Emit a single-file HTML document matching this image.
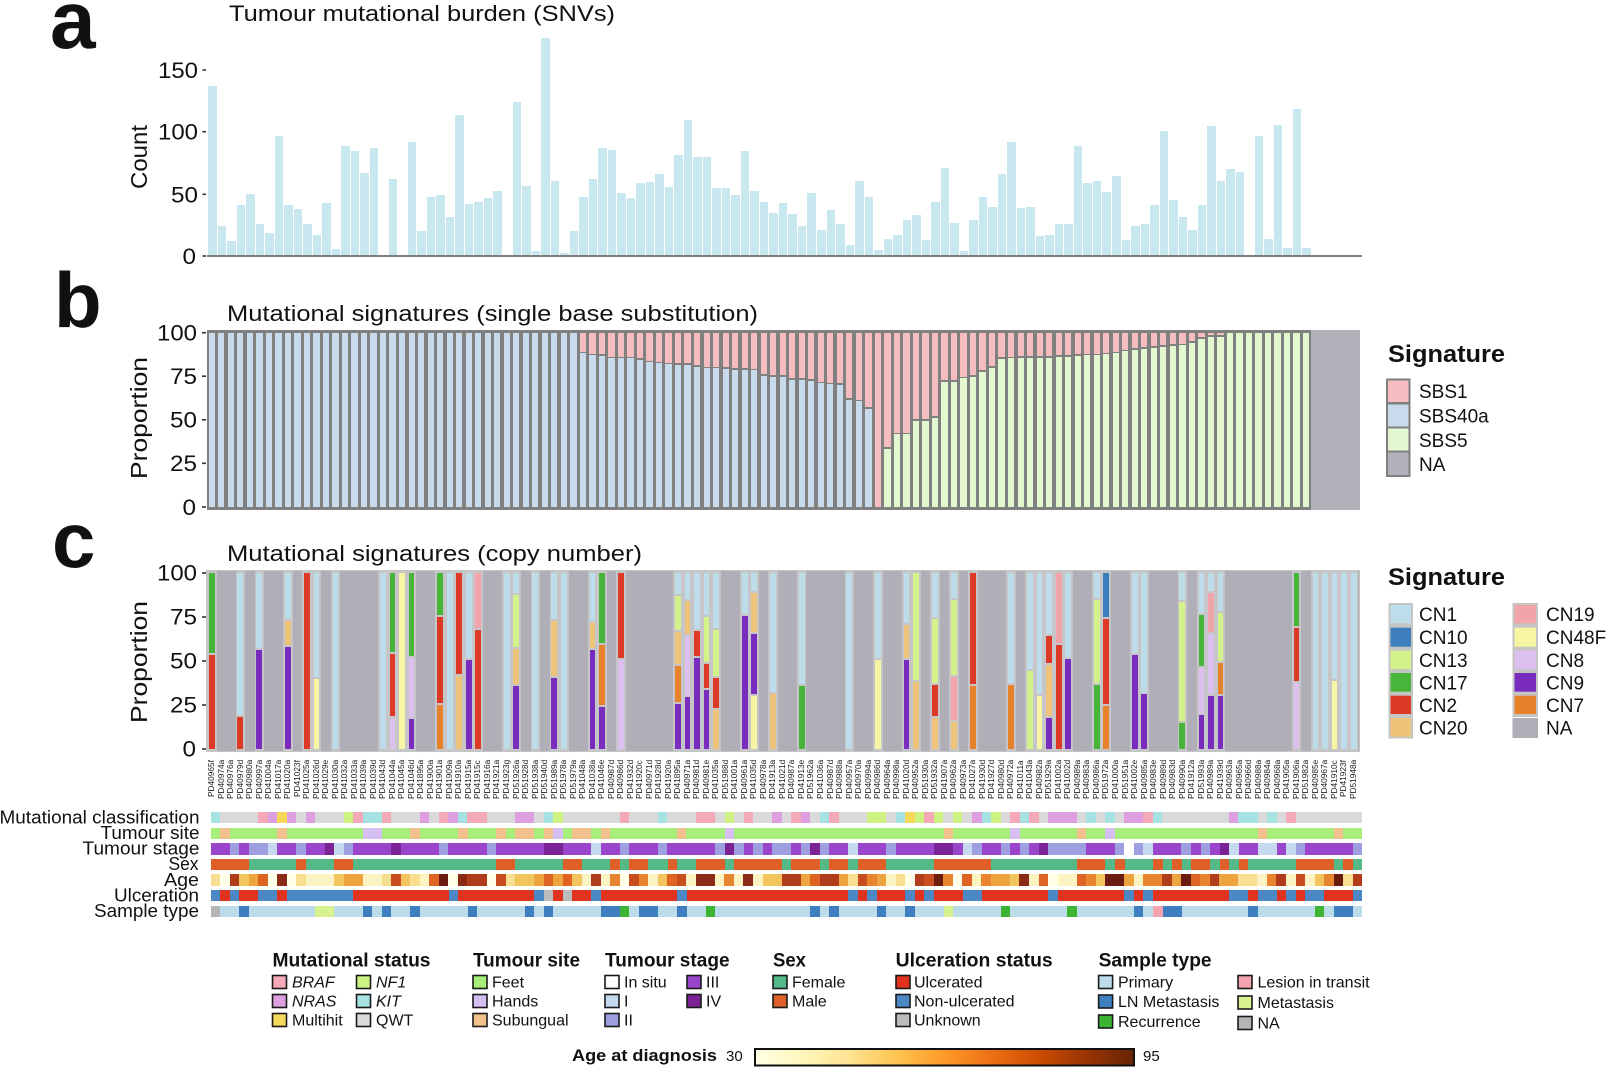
<!DOCTYPE html>
<html><head><meta charset="utf-8">
<style>
html,body{margin:0;padding:0;background:#fff}
body{width:1606px;height:1067px;position:relative;overflow:hidden;font-family:"Liberation Sans",Arial,sans-serif}
i,b{display:block;font-style:normal}
#pa{position:absolute;left:208px;top:7px;width:1152px;height:248px;display:flex;align-items:flex-end}
#pa>i{flex:1 1 0;min-width:0;background:#c8e7ee;box-shadow:inset -1px 0 #fff}
#base{position:absolute;left:207px;top:255px;width:1155px;height:2px;background:#7f7f7f}
#pb{position:absolute;left:207px;top:330px;width:1104px;height:180px;background:#808080;display:flex;padding:3px 0;box-sizing:border-box}
#pb>i{flex:1 1 0;min-width:0;display:flex;flex-direction:column;margin:0 1.6px 0 1.7px}
#pb>i>b:first-child{flex:0 0 auto}
#pb>i>b+b{flex:1 1 0;margin-top:1.6px}
#pbna{position:absolute;left:1311px;top:330px;width:49px;height:180px;background:#b2b1b9}
.p{background:#f5bdc0}.u{background:#c7dbec}.g{background:#e3f8d1}
#pc{position:absolute;left:207px;top:571px;width:1152px;height:180px;background:#b0aeb6;display:flex;outline:1.5px solid #c5c5c5}
#pc>i{flex:1 1 0;min-width:0;display:flex;flex-direction:column;padding:1.7px 1.9px;box-sizing:border-box}
#pc>i.f{background:#c6c6c8}
#pc b{flex:1 1 0;min-height:0}
#pc b+b{margin-top:2px}
.c1{background:#bcdde9}.c10{background:#3d7fbe}.c13{background:#d3f28a}.c17{background:#46b53a}.c2{background:#dc3a26}.c20{background:#efc47a}.c19{background:#f1a5ab}.c48{background:#f6f6a2}.c8{background:#dcc1ee}.c9{background:#7a2cbf}.c7{background:#e8822a}
#lb{position:absolute;left:207px;top:760px;width:1152px;height:39px;display:flex}
#lb>span{flex:1 1 0;min-width:0;writing-mode:vertical-rl;transform:rotate(180deg);text-align:end;font-size:8.3px;line-height:9.5px;white-space:nowrap;color:#222}
.tr{position:absolute;left:210.5px;width:1152px;height:11.4px;display:flex}
.tr>i{flex:1 1 0;min-width:0}
.mK{background:#a7e2e2}.mG{background:#dadada}.mB{background:#f4a8b8}.mN{background:#de9fe0}.mM{background:#f5d75a}.mF{background:#cff383}
.sF{background:#a8ee7a}.sU{background:#f2c08c}.sH{background:#d5bff2}
.t0{background:#fff}.t1{background:#c5daee}.t2{background:#9d9fe0}.t3{background:#9b45cc}.t4{background:#7b2394}
.xM{background:#e05f28}.xF{background:#55b887}
.a0{background:#fffee6}.a1{background:#fcf3c2}.a2{background:#f7df8f}.a3{background:#f2c45e}.a4{background:#eea43f}.a5{background:#e8852e}.a6{background:#df6423}.a7{background:#c84e1f}.a8{background:#b03c1b}.a9{background:#8b2a16}.a10{background:#6b1c0f}
.uU{background:#e0321f}.uN{background:#4b88c5}.uX{background:#bbbbbb}
.yP{background:#bddcea}.yL{background:#3f7fc0}.yR{background:#3db333}.yT{background:#f5a3ae}.yM{background:#d8f290}.yX{background:#b5b5b5}
svg{position:absolute;left:0;top:0}
</style></head><body>

<div id="pa">
<i style="height:68%"></i><i style="height:11.5%"></i><i style="height:5.5%"></i><i style="height:20%"></i><i style="height:24.5%"></i><i style="height:12.5%"></i><i style="height:9%"></i><i style="height:48%"></i><i style="height:20%"></i><i style="height:18.5%"></i>
<i style="height:12.5%"></i><i style="height:8%"></i><i style="height:21%"></i><i style="height:2.5%"></i><i style="height:44%"></i><i style="height:42%"></i><i style="height:33%"></i><i style="height:43%"></i><i style="height:0"></i><i style="height:30.5%"></i>
<i style="height:0"></i><i style="height:45.5%"></i><i style="height:9.5%"></i><i style="height:23.5%"></i><i style="height:24%"></i><i style="height:15.5%"></i><i style="height:56.5%"></i><i style="height:20.5%"></i><i style="height:21.5%"></i><i style="height:23%"></i>
<i style="height:26%"></i><i style="height:0"></i><i style="height:61.5%"></i><i style="height:28%"></i><i style="height:1.5%"></i><i style="height:87.5%"></i><i style="height:30%"></i><i style="height:1%"></i><i style="height:9.5%"></i><i style="height:23.5%"></i>
<i style="height:30.5%"></i><i style="height:43%"></i><i style="height:42.5%"></i><i style="height:25%"></i><i style="height:23%"></i><i style="height:29%"></i><i style="height:29.5%"></i><i style="height:32.5%"></i><i style="height:27.5%"></i><i style="height:40.5%"></i>
<i style="height:54.5%"></i><i style="height:39.5%"></i><i style="height:39.5%"></i><i style="height:27%"></i><i style="height:27%"></i><i style="height:24%"></i><i style="height:42%"></i><i style="height:26%"></i><i style="height:21.5%"></i><i style="height:17%"></i>
<i style="height:21%"></i><i style="height:16.5%"></i><i style="height:11.5%"></i><i style="height:25%"></i><i style="height:10%"></i><i style="height:18%"></i><i style="height:12.5%"></i><i style="height:4%"></i><i style="height:30%"></i><i style="height:23.5%"></i>
<i style="height:2%"></i><i style="height:6.5%"></i><i style="height:8%"></i><i style="height:14%"></i><i style="height:16%"></i><i style="height:6%"></i><i style="height:21.5%"></i><i style="height:35%"></i><i style="height:13%"></i><i style="height:1.5%"></i>
<i style="height:14%"></i><i style="height:23.5%"></i><i style="height:19.5%"></i><i style="height:32.5%"></i><i style="height:45.5%"></i><i style="height:19%"></i><i style="height:19.5%"></i><i style="height:7.5%"></i><i style="height:8%"></i><i style="height:12.5%"></i>
<i style="height:12.5%"></i><i style="height:44%"></i><i style="height:29%"></i><i style="height:30%"></i><i style="height:25.5%"></i><i style="height:32%"></i><i style="height:6%"></i><i style="height:11.5%"></i><i style="height:12.5%"></i><i style="height:20%"></i>
<i style="height:50%"></i><i style="height:22%"></i><i style="height:15.5%"></i><i style="height:10%"></i><i style="height:20%"></i><i style="height:52%"></i><i style="height:30%"></i><i style="height:34.5%"></i><i style="height:33.5%"></i><i style="height:0"></i>
<i style="height:48%"></i><i style="height:6.5%"></i><i style="height:52.5%"></i><i style="height:3%"></i><i style="height:59%"></i><i style="height:3%"></i><i style="height:0"></i><i style="height:0"></i><i style="height:0"></i><i style="height:0"></i><i style="height:0"></i>
</div>
<div id="base"></div>

<div id="pb">
<i class="u"></i><i class="u"></i><i class="u"></i><i class="u"></i><i class="u"></i><i class="u"></i><i class="u"></i><i class="u"></i><i class="u"></i><i class="u"></i>
<i class="u"></i><i class="u"></i><i class="u"></i><i class="u"></i><i class="u"></i><i class="u"></i><i class="u"></i><i class="u"></i><i class="u"></i><i class="u"></i>
<i class="u"></i><i class="u"></i><i class="u"></i><i class="u"></i><i class="u"></i><i class="u"></i><i class="u"></i><i class="u"></i><i class="u"></i><i class="u"></i>
<i class="u"></i><i class="u"></i><i class="u"></i><i class="u"></i><i class="u"></i><i class="u"></i><i class="u"></i><i class="u"></i><i class="u"></i>
<i><b class="p" style="height:10.8%"></b><b class="u"></b></i><i><b class="p" style="height:11.8%"></b><b class="u"></b></i><i><b class="p" style="height:12.1%"></b><b class="u"></b></i><i><b class="p" style="height:13.7%"></b><b class="u"></b></i><i><b class="p" style="height:13.7%"></b><b class="u"></b></i><i><b class="p" style="height:13.7%"></b><b class="u"></b></i><i><b class="p" style="height:14.6%"></b><b class="u"></b></i><i><b class="p" style="height:15.9%"></b><b class="u"></b></i><i><b class="p" style="height:16.5%"></b><b class="u"></b></i><i><b class="p" style="height:17.1%"></b><b class="u"></b></i>
<i><b class="p" style="height:17.5%"></b><b class="u"></b></i><i><b class="p" style="height:17.5%"></b><b class="u"></b></i><i><b class="p" style="height:18.4%"></b><b class="u"></b></i><i><b class="p" style="height:19.4%"></b><b class="u"></b></i><i><b class="p" style="height:19.4%"></b><b class="u"></b></i><i><b class="p" style="height:19.7%"></b><b class="u"></b></i><i><b class="p" style="height:20.3%"></b><b class="u"></b></i><i><b class="p" style="height:20.3%"></b><b class="u"></b></i><i><b class="p" style="height:20.5%"></b><b class="u"></b></i>
<i><b class="p" style="height:23.7%"></b><b class="u"></b></i><i><b class="p" style="height:24.3%"></b><b class="u"></b></i><i><b class="p" style="height:24.3%"></b><b class="u"></b></i><i><b class="p" style="height:26%"></b><b class="u"></b></i><i><b class="p" style="height:26%"></b><b class="u"></b></i><i><b class="p" style="height:26.6%"></b><b class="u"></b></i><i><b class="p" style="height:27.9%"></b><b class="u"></b></i><i><b class="p" style="height:28.5%"></b><b class="u"></b></i><i><b class="p" style="height:28.8%"></b><b class="u"></b></i><i><b class="p" style="height:37.4%"></b><b class="u"></b></i><i><b class="p" style="height:38.3%"></b><b class="u"></b></i><i><b class="p" style="height:42.5%"></b><b class="u"></b></i>
<i class="p"></i>
<i><b class="p" style="height:65.8%"></b><b class="g"></b></i><i><b class="p" style="height:57.3%"></b><b class="g"></b></i><i><b class="p" style="height:57.3%"></b><b class="g"></b></i><i><b class="p" style="height:49.7%"></b><b class="g"></b></i><i><b class="p" style="height:49.7%"></b><b class="g"></b></i><i><b class="p" style="height:47.8%"></b><b class="g"></b></i>
<i><b class="p" style="height:27%"></b><b class="g"></b></i><i><b class="p" style="height:27%"></b><b class="g"></b></i><i><b class="p" style="height:25%"></b><b class="g"></b></i><i><b class="p" style="height:24.1%"></b><b class="g"></b></i><i><b class="p" style="height:21.3%"></b><b class="g"></b></i><i><b class="p" style="height:19%"></b><b class="g"></b></i>
<i><b class="p" style="height:14%"></b><b class="g"></b></i><i><b class="p" style="height:13.7%"></b><b class="g"></b></i><i><b class="p" style="height:13.3%"></b><b class="g"></b></i><i><b class="p" style="height:13.3%"></b><b class="g"></b></i><i><b class="p" style="height:13.3%"></b><b class="g"></b></i><i><b class="p" style="height:13.3%"></b><b class="g"></b></i><i><b class="p" style="height:12.7%"></b><b class="g"></b></i><i><b class="p" style="height:12.7%"></b><b class="g"></b></i><i><b class="p" style="height:12.1%"></b><b class="g"></b></i><i><b class="p" style="height:11.8%"></b><b class="g"></b></i><i><b class="p" style="height:11.8%"></b><b class="g"></b></i><i><b class="p" style="height:11.4%"></b><b class="g"></b></i>
<i><b class="p" style="height:10.8%"></b><b class="g"></b></i><i><b class="p" style="height:9.5%"></b><b class="g"></b></i><i><b class="p" style="height:8.9%"></b><b class="g"></b></i><i><b class="p" style="height:8%"></b><b class="g"></b></i><i><b class="p" style="height:7.6%"></b><b class="g"></b></i><i><b class="p" style="height:7%"></b><b class="g"></b></i><i><b class="p" style="height:6.5%"></b><b class="g"></b></i><i><b class="p" style="height:6.1%"></b><b class="g"></b></i><i><b class="p" style="height:4.7%"></b><b class="g"></b></i><i><b class="p" style="height:2.3%"></b><b class="g"></b></i><i><b class="p" style="height:1.3%"></b><b class="g"></b></i><i><b class="p" style="height:1.3%"></b><b class="g"></b></i>
<i class="g"></i><i class="g"></i><i class="g"></i><i class="g"></i><i class="g"></i><i class="g"></i><i class="g"></i><i class="g"></i><i class="g"></i>
</div>
<div id="pbna"></div>

<div id="pc">
<i class="f"><b class="c17" style="flex:46"></b><b class="c2" style="flex:54"></b></i><i></i><i></i>
<i class="f"><b class="c1" style="flex:81.5"></b><b class="c2" style="flex:18.5"></b></i><i></i>
<i class="f"><b class="c1" style="flex:43"></b><b class="c9" style="flex:57"></b></i><i></i><i></i>
<i class="f"><b class="c1" style="flex:27"></b><b class="c20" style="flex:14"></b><b class="c9" style="flex:59"></b></i><i></i>
<i class="f"><b class="c2"></b></i>
<i class="f"><b class="c1" style="flex:59.5"></b><b class="c48" style="flex:40.5"></b></i><i></i>
<i class="f"><b class="c1"></b></i><i></i><i></i><i></i><i></i>
<i class="f"><b class="c1"></b></i>
<i class="f"><b class="c17" style="flex:46"></b><b class="c2" style="flex:36"></b><b class="c8" style="flex:18"></b></i>
<i class="f"><b class="c48"></b></i>
<i class="f"><b class="c17" style="flex:48.5"></b><b class="c8" style="flex:34"></b><b class="c9" style="flex:17.5"></b></i><i></i><i></i>
<i class="f"><b class="c17" style="flex:24.5"></b><b class="c2" style="flex:50"></b><b class="c7" style="flex:25.5"></b></i>
<i class="f"><b class="c1"></b></i>
<i class="f"><b class="c2" style="flex:58"></b><b class="c20" style="flex:42"></b></i>
<i class="f"><b class="c1" style="flex:49"></b><b class="c9" style="flex:51"></b></i>
<i class="f"><b class="c19" style="flex:31.5"></b><b class="c2" style="flex:68.5"></b></i><i></i><i></i>
<i class="f"><b class="c1"></b></i>
<i class="f"><b class="c1" style="flex:11.7"></b><b class="c13" style="flex:30.7"></b><b class="c20" style="flex:20.5"></b><b class="c9" style="flex:37.1"></b></i><i></i>
<i class="f"><b class="c1"></b></i><i></i>
<i class="f"><b class="c1" style="flex:26.8"></b><b class="c20" style="flex:31.7"></b><b class="c9" style="flex:41.5"></b></i>
<i class="f"><b class="c1"></b></i><i></i><i></i>
<i class="f"><b class="c1" style="flex:27.7"></b><b class="c20" style="flex:15"></b><b class="c9" style="flex:57.3"></b></i>
<i class="f"><b class="c17" style="flex:40.5"></b><b class="c7" style="flex:35"></b><b class="c9" style="flex:24.5"></b></i><i></i>
<i class="f"><b class="c2" style="flex:49"></b><b class="c8" style="flex:51"></b></i><i></i><i></i><i></i><i></i><i></i>
<i class="f"><b class="c1" style="flex:12.6"></b><b class="c13" style="flex:20.4"></b><b class="c20" style="flex:19"></b><b class="c7" style="flex:21"></b><b class="c9" style="flex:27"></b></i>
<i class="f"><b class="c1" style="flex:15.5"></b><b class="c20" style="flex:19.3"></b><b class="c8" style="flex:34.4"></b><b class="c9" style="flex:30.8"></b></i>
<i class="f"><b class="c1" style="flex:32.5"></b><b class="c2" style="flex:14.8"></b><b class="c9" style="flex:52.7"></b></i>
<i class="f"><b class="c1" style="flex:24.9"></b><b class="c13" style="flex:26.5"></b><b class="c2" style="flex:14"></b><b class="c9" style="flex:34.6"></b></i>
<i class="f"><b class="c1" style="flex:32.5"></b><b class="c13" style="flex:26.6"></b><b class="c2" style="flex:17.6"></b><b class="c20" style="flex:23.3"></b></i><i></i><i></i>
<i class="f"><b class="c1" style="flex:23.5"></b><b class="c9" style="flex:76.5"></b></i>
<i class="f"><b class="c1" style="flex:10.8"></b><b class="c20" style="flex:23"></b><b class="c9" style="flex:35.2"></b><b class="c48" style="flex:31"></b></i><i></i>
<i class="f"><b class="c1" style="flex:68.3"></b><b class="c20" style="flex:31.7"></b></i><i></i><i></i>
<i class="f"><b class="c1" style="flex:63.9"></b><b class="c17" style="flex:36.1"></b></i><i></i><i></i><i></i><i></i>
<i class="f"><b class="c1"></b></i><i></i><i></i>
<i class="f"><b class="c1" style="flex:49.1"></b><b class="c48" style="flex:50.9"></b></i><i></i><i></i>
<i class="f"><b class="c1" style="flex:29"></b><b class="c20" style="flex:19"></b><b class="c9" style="flex:52"></b></i>
<i class="f"><b class="c13" style="flex:61.7"></b><b class="c20" style="flex:38.3"></b></i><i></i>
<i class="f"><b class="c1" style="flex:26.1"></b><b class="c13" style="flex:37.4"></b><b class="c2" style="flex:18.2"></b><b class="c20" style="flex:18.3"></b></i><i></i>
<i class="f"><b class="c1" style="flex:14.8"></b><b class="c13" style="flex:44"></b><b class="c19" style="flex:25"></b><b class="c20" style="flex:16.2"></b></i><i></i>
<i class="f"><b class="c2" style="flex:63.7"></b><b class="c7" style="flex:36.3"></b></i><i></i><i></i><i></i>
<i class="f"><b class="c1" style="flex:63.1"></b><b class="c7" style="flex:36.9"></b></i><i></i>
<i class="f"><b class="c1" style="flex:55.4"></b><b class="c13" style="flex:44.6"></b></i>
<i class="f"><b class="c1" style="flex:69.5"></b><b class="c48" style="flex:30.5"></b></i>
<i class="f"><b class="c1" style="flex:36"></b><b class="c2" style="flex:15.6"></b><b class="c20" style="flex:30.3"></b><b class="c9" style="flex:18.1"></b></i>
<i class="f"><b class="c19" style="flex:40.5"></b><b class="c2" style="flex:59.5"></b></i>
<i class="f"><b class="c1" style="flex:48.2"></b><b class="c9" style="flex:51.8"></b></i><i></i><i></i>
<i class="f"><b class="c1" style="flex:14.8"></b><b class="c13" style="flex:48.2"></b><b class="c17" style="flex:37"></b></i>
<i class="f"><b class="c10" style="flex:25.5"></b><b class="c2" style="flex:49.4"></b><b class="c7" style="flex:25.1"></b></i><i></i><i></i>
<i class="f"><b class="c1" style="flex:45.8"></b><b class="c9" style="flex:54.2"></b></i>
<i class="f"><b class="c1" style="flex:68.1"></b><b class="c9" style="flex:31.9"></b></i><i></i><i></i><i></i>
<i class="f"><b class="c1" style="flex:16.1"></b><b class="c13" style="flex:68.9"></b><b class="c17" style="flex:15"></b></i><i></i>
<i class="f"><b class="c1" style="flex:23.5"></b><b class="c17" style="flex:30"></b><b class="c8" style="flex:26.6"></b><b class="c9" style="flex:19.9"></b></i>
<i class="f"><b class="c1" style="flex:10.8"></b><b class="c19" style="flex:23"></b><b class="c8" style="flex:35.2"></b><b class="c9" style="flex:31"></b></i>
<i class="f"><b class="c1" style="flex:22.3"></b><b class="c13" style="flex:28"></b><b class="c7" style="flex:18.7"></b><b class="c9" style="flex:31"></b></i><i></i><i></i><i></i><i></i><i></i><i></i><i></i>
<i class="f"><b class="c17" style="flex:30.8"></b><b class="c2" style="flex:30.8"></b><b class="c8" style="flex:38.4"></b></i><i></i>
<i class="f"><b class="c1"></b></i><i class="f"><b class="c1"></b></i>
<i class="f"><b class="c1" style="flex:61"></b><b class="c48" style="flex:39"></b></i>
<i class="f"><b class="c1"></b></i><i class="f"><b class="c1"></b></i>
</div>

<div id="lb">
<span>PD40965f</span><span>PD40974a</span><span>PD40976a</span><span>PD40979d</span><span>PD40980a</span><span>PD40997a</span><span>PD41004a</span><span>PD41017a</span><span>PD41020a</span><span>PD41023f</span>
<span>PD41025a</span><span>PD41026d</span><span>PD41029e</span><span>PD41030a</span><span>PD41032a</span><span>PD41033a</span><span>PD41039a</span><span>PD41039d</span><span>PD41043d</span><span>PD41044a</span>
<span>PD41045a</span><span>PD41046d</span><span>PD41895a</span><span>PD41900a</span><span>PD41901a</span><span>PD41909a</span><span>PD41910a</span><span>PD41915a</span><span>PD41915c</span><span>PD41916a</span>
<span>PD41921a</span><span>PD41923g</span><span>PD51926a</span><span>PD51928d</span><span>PD51938a</span><span>PD51940d</span><span>PD51989a</span><span>PD51978a</span><span>PD51979a</span><span>PD41048a</span>
<span>PD41038a</span><span>PD41046e</span><span>PD40987d</span><span>PD40986d</span><span>PD41932d</span><span>PD41920c</span><span>PD40971d</span><span>PD41928d</span><span>PD41920a</span><span>PD41895a</span>
<span>PD40971a</span><span>PD40981d</span><span>PD40981e</span><span>PD41035a</span><span>PD51988d</span><span>PD41001a</span><span>PD40961a</span><span>PD41035d</span><span>PD40978a</span><span>PD41913a</span>
<span>PD41021d</span><span>PD40987a</span><span>PD41913e</span><span>PD51962a</span><span>PD41036a</span><span>PD40987d</span><span>PD40988a</span><span>PD40957a</span><span>PD40970a</span><span>PD40994a</span>
<span>PD40986d</span><span>PD40964a</span><span>PD40998a</span><span>PD41020d</span><span>PD40952a</span><span>PD51930a</span><span>PD51932a</span><span>PD41907a</span><span>PD40962a</span><span>PD40973a</span>
<span>PD41027a</span><span>PD41930d</span><span>PD41927d</span><span>PD40980d</span><span>PD40972a</span><span>PD41011a</span><span>PD41043a</span><span>PD40982a</span><span>PD51929a</span><span>PD41002a</span>
<span>PD41002d</span><span>PD40989a</span><span>PD40983a</span><span>PD40986a</span><span>PD51972a</span><span>PD41000a</span><span>PD51951a</span><span>PD41002e</span><span>PD40985a</span><span>PD40983e</span>
<span>PD40989d</span><span>PD40983d</span><span>PD40990a</span><span>PD41912a</span><span>PD51993a</span><span>PD40989a</span><span>PD41939d</span><span>PD40963a</span><span>PD40965a</span><span>PD40966d</span>
<span>PD40988a</span><span>PD40984a</span><span>PD40968a</span><span>PD41905a</span><span>PD41906a</span><span>PD51982a</span><span>PD40985e</span><span>PD40967a</span><span>PD41910c</span><span>PD41923f</span>
<span>PD51948a</span>
</div>

<div class="tr" style="top:812px">
<i class="mK"></i><i class="mG" style="flex:4"></i><i class="mB"></i><i class="mN"></i><i class="mM"></i><i class="mN"></i><i class="mG"></i><i class="mN"></i><i class="mG" style="flex:3"></i><i class="mF"></i><i class="mB"></i><i class="mK" style="flex:2"></i><i class="mB"></i><i class="mG" style="flex:3"></i><i class="mN"></i><i class="mG"></i><i class="mB"></i><i class="mN"></i><i class="mK"></i><i class="mB" style="flex:2"></i><i class="mG" style="flex:3"></i><i class="mN" style="flex:2"></i><i class="mG"></i><i class="mK"></i><i class="mF"></i><i class="mG" style="flex:6"></i><i class="mB"></i><i class="mG" style="flex:3"></i><i class="mK"></i><i class="mG" style="flex:3"></i><i class="mB" style="flex:2"></i><i class="mG"></i><i class="mF"></i><i class="mG"></i><i class="mB"></i><i class="mG" style="flex:2"></i><i class="mN"></i><i class="mG"></i><i class="mB"></i><i class="mN"></i><i class="mG"></i><i class="mK"></i><i class="mB"></i><i class="mG" style="flex:3"></i><i class="mF" style="flex:2"></i><i class="mG"></i><i class="mK"></i><i class="mM"></i><i class="mF"></i><i class="mB"></i><i class="mF"></i><i class="mG"></i><i class="mF"></i><i class="mG"></i><i class="mN"></i><i class="mK"></i><i class="mF"></i><i class="mG"></i><i class="mB"></i><i class="mK"></i><i class="mB"></i><i class="mG"></i><i class="mN" style="flex:3"></i><i class="mG"></i><i class="mK"></i><i class="mG"></i><i class="mK"></i><i class="mG"></i><i class="mN" style="flex:2"></i><i class="mB"></i><i class="mK"></i><i class="mG" style="flex:7"></i><i class="mN"></i><i class="mK" style="flex:2"></i><i class="mG"></i><i class="mK"></i><i class="mG"></i><i class="mB"></i><i class="mG" style="flex:7"></i>
</div>
<div class="tr" style="top:827.6px">
<i class="sF"></i><i class="sU"></i><i class="sF" style="flex:5"></i><i class="sU"></i><i class="sF" style="flex:8"></i><i class="sH" style="flex:2"></i><i class="sF" style="flex:3"></i><i class="sU"></i><i class="sF" style="flex:4"></i><i class="sU"></i><i class="sF" style="flex:3"></i><i class="sU"></i><i class="sF"></i><i class="sU" style="flex:2"></i><i class="sF"></i><i class="sU"></i><i class="sH"></i><i class="sF"></i><i class="sU" style="flex:2"></i><i class="sF"></i><i class="sU"></i><i class="sF" style="flex:7"></i><i class="sU"></i><i class="sF" style="flex:4"></i><i class="sH"></i><i class="sF" style="flex:22"></i><i class="sU"></i><i class="sF" style="flex:6"></i><i class="sH"></i><i class="sF" style="flex:6"></i><i class="sU"></i><i class="sF" style="flex:2"></i><i class="sH"></i><i class="sF" style="flex:15"></i><i class="sU"></i><i class="sF" style="flex:7"></i><i class="sU"></i><i class="sF" style="flex:2"></i>
</div>
<div class="tr" style="top:843.2px">
<i class="t3" style="flex:2"></i><i class="t2"></i><i class="t3"></i><i class="t2" style="flex:2"></i><i class="t1"></i><i class="t3" style="flex:2"></i><i class="t2"></i><i class="t3" style="flex:2"></i><i class="t4"></i><i class="t1"></i><i class="t2"></i><i class="t3" style="flex:4"></i><i class="t4"></i><i class="t3" style="flex:4"></i><i class="t2"></i><i class="t3" style="flex:4"></i><i class="t2"></i><i class="t3" style="flex:5"></i><i class="t4" style="flex:2"></i><i class="t3" style="flex:3"></i><i class="t1"></i><i class="t3" style="flex:2"></i><i class="t2"></i><i class="t3" style="flex:3"></i><i class="t2"></i><i class="t3" style="flex:5"></i><i class="t2"></i><i class="t4"></i><i class="t2"></i><i class="t3"></i><i class="t2"></i><i class="t3"></i><i class="t2" style="flex:2"></i><i class="t3"></i><i class="t2"></i><i class="t4"></i><i class="t2"></i><i class="t3" style="flex:2"></i><i class="t1"></i><i class="t3" style="flex:3"></i><i class="t2"></i><i class="t3" style="flex:4"></i><i class="t4" style="flex:2"></i><i class="t3"></i><i class="t1"></i><i class="t2"></i><i class="t3" style="flex:2"></i><i class="t2"></i><i class="t3"></i><i class="t2"></i><i class="t3"></i><i class="t4"></i><i class="t2" style="flex:4"></i><i class="t3" style="flex:3"></i><i class="t2"></i><i class="t0"></i><i class="t2"></i><i class="t1"></i><i class="t3" style="flex:3"></i><i class="t2"></i><i class="t3"></i><i class="t2"></i><i class="t3"></i><i class="t4"></i><i class="t1"></i><i class="t3" style="flex:2"></i><i class="t1" style="flex:2"></i><i class="t3"></i><i class="t1"></i><i class="t2"></i><i class="t3" style="flex:5"></i><i class="t2"></i>
</div>
<div class="tr" style="top:858.8px">
<i class="xM" style="flex:4"></i><i class="xF" style="flex:5"></i><i class="xM"></i><i class="xF" style="flex:3"></i><i class="xM" style="flex:2"></i><i class="xF" style="flex:15"></i><i class="xM" style="flex:2"></i><i class="xF" style="flex:5"></i><i class="xM" style="flex:2"></i><i class="xF" style="flex:3"></i><i class="xM"></i><i class="xF"></i><i class="xM" style="flex:2"></i><i class="xF" style="flex:2"></i><i class="xM"></i><i class="xF" style="flex:2"></i><i class="xM" style="flex:3"></i><i class="xF"></i><i class="xM" style="flex:5"></i><i class="xF"></i><i class="xM" style="flex:3"></i><i class="xF"></i><i class="xM" style="flex:2"></i><i class="xF"></i><i class="xM" style="flex:3"></i><i class="xF" style="flex:5"></i><i class="xM" style="flex:6"></i><i class="xF" style="flex:9"></i><i class="xM" style="flex:3"></i><i class="xF"></i><i class="xM"></i><i class="xF" style="flex:3"></i><i class="xM"></i><i class="xF"></i><i class="xM"></i><i class="xF"></i><i class="xM" style="flex:2"></i><i class="xF"></i><i class="xM"></i><i class="xF"></i><i class="xM"></i><i class="xF" style="flex:5"></i><i class="xM" style="flex:4"></i><i class="xF"></i><i class="xM"></i><i class="xF"></i>
</div>
<div class="tr" style="top:874.4px">
<i class="a2"></i><i class="a0"></i><i class="a8"></i><i class="a3"></i><i class="a4"></i><i class="a6"></i><i class="a0"></i><i class="a9"></i><i class="a0"></i><i class="a2"></i><i class="a1" style="flex:3"></i><i class="a3"></i><i class="a4" style="flex:2"></i><i class="a1" style="flex:2"></i><i class="a2"></i><i class="a7"></i><i class="a3"></i><i class="a2"></i><i class="a1"></i><i class="a6"></i><i class="a10"></i><i class="a0"></i><i class="a9"></i><i class="a8" style="flex:2"></i><i class="a0"></i><i class="a7"></i><i class="a2"></i><i class="a3" style="flex:2"></i><i class="a4"></i><i class="a6"></i><i class="a4"></i><i class="a6"></i><i class="a3"></i><i class="a1"></i><i class="a8"></i><i class="a1"></i><i class="a5"></i><i class="a0"></i><i class="a7"></i><i class="a5"></i><i class="a1"></i><i class="a3"></i><i class="a6"></i><i class="a7"></i><i class="a1"></i><i class="a9" style="flex:2"></i><i class="a1"></i><i class="a5"></i><i class="a1"></i><i class="a9"></i><i class="a1"></i><i class="a3" style="flex:2"></i><i class="a8" style="flex:2"></i><i class="a4"></i><i class="a6"></i><i class="a8" style="flex:2"></i><i class="a4"></i><i class="a2"></i><i class="a7"></i><i class="a5"></i><i class="a4"></i><i class="a1"></i><i class="a2"></i><i class="a0"></i><i class="a8"></i><i class="a7"></i><i class="a10"></i><i class="a5"></i><i class="a0"></i><i class="a6"></i><i class="a1"></i><i class="a5"></i><i class="a4" style="flex:2"></i><i class="a3"></i><i class="a9"></i><i class="a1"></i><i class="a6"></i><i class="a0"></i><i class="a1" style="flex:2"></i><i class="a6"></i><i class="a5"></i><i class="a3"></i><i class="a10" style="flex:2"></i><i class="a4"></i><i class="a1"></i><i class="a5" style="flex:2"></i><i class="a8"></i><i class="a4"></i><i class="a10"></i><i class="a6"></i><i class="a5"></i><i class="a8"></i><i class="a4" style="flex:2"></i><i class="a2" style="flex:2"></i><i class="a1"></i><i class="a5"></i><i class="a8"></i><i class="a1"></i><i class="a7"></i><i class="a1"></i><i class="a3"></i><i class="a5"></i><i class="a10"></i><i class="a2"></i><i class="a8"></i>
</div>
<div class="tr" style="top:890px">
<i class="uN"></i><i class="uU"></i><i class="uN"></i><i class="uU" style="flex:2"></i><i class="uN" style="flex:2"></i><i class="uU"></i><i class="uN" style="flex:7"></i><i class="uU" style="flex:10"></i><i class="uN"></i><i class="uU" style="flex:8"></i><i class="uN"></i><i class="uX"></i><i class="uU"></i><i class="uX"></i><i class="uU" style="flex:2"></i><i class="uN"></i><i class="uU" style="flex:8"></i><i class="uN"></i><i class="uU" style="flex:17"></i><i class="uN"></i><i class="uU"></i><i class="uN"></i><i class="uU" style="flex:3"></i><i class="uN"></i><i class="uU"></i><i class="uN"></i><i class="uU" style="flex:3"></i><i class="uN" style="flex:2"></i><i class="uU" style="flex:7"></i><i class="uN"></i><i class="uU" style="flex:7"></i><i class="uN"></i><i class="uU"></i><i class="uN"></i><i class="uU" style="flex:8"></i><i class="uN" style="flex:2"></i><i class="uU"></i><i class="uN" style="flex:2"></i><i class="uU"></i><i class="uN"></i><i class="uU"></i><i class="uN" style="flex:2"></i><i class="uU" style="flex:3"></i><i class="uN"></i>
</div>
<div class="tr" style="top:905.6px">
<i class="yX"></i><i class="yP" style="flex:2"></i><i class="yL"></i><i class="yP" style="flex:7"></i><i class="yM" style="flex:2"></i><i class="yP" style="flex:3"></i><i class="yL"></i><i class="yP"></i><i class="yL"></i><i class="yP" style="flex:2"></i><i class="yL"></i><i class="yP" style="flex:5"></i><i class="yL"></i><i class="yP" style="flex:5"></i><i class="yL"></i><i class="yP"></i><i class="yL"></i><i class="yP" style="flex:5"></i><i class="yL" style="flex:2"></i><i class="yR"></i><i class="yP"></i><i class="yL" style="flex:2"></i><i class="yP" style="flex:2"></i><i class="yL"></i><i class="yP" style="flex:2"></i><i class="yR"></i><i class="yP" style="flex:10"></i><i class="yL"></i><i class="yP"></i><i class="yL"></i><i class="yP" style="flex:4"></i><i class="yL"></i><i class="yP" style="flex:2"></i><i class="yL"></i><i class="yP" style="flex:3"></i><i class="yM"></i><i class="yP" style="flex:5"></i><i class="yR"></i><i class="yP" style="flex:6"></i><i class="yR"></i><i class="yP" style="flex:6"></i><i class="yL"></i><i class="yP"></i><i class="yT"></i><i class="yL" style="flex:2"></i><i class="yP" style="flex:7"></i><i class="yL"></i><i class="yP" style="flex:6"></i><i class="yR"></i><i class="yP"></i><i class="yL" style="flex:2"></i><i class="yP"></i>
</div>

<svg width="1606" height="1067" viewBox="0 0 1606 1067" font-family="Liberation Sans, Arial, sans-serif" fill="#111">
<defs>
<linearGradient id="ylorbr" x1="0" x2="1" y1="0" y2="0">
<stop offset="0" stop-color="#ffffe5"/><stop offset="0.125" stop-color="#fff7bc"/><stop offset="0.25" stop-color="#fee391"/><stop offset="0.375" stop-color="#fec44f"/><stop offset="0.5" stop-color="#fe9929"/><stop offset="0.625" stop-color="#ec7014"/><stop offset="0.75" stop-color="#cc4c02"/><stop offset="0.875" stop-color="#993404"/><stop offset="1" stop-color="#662506"/>
</linearGradient>
</defs>

<!-- panel letters -->
<text x="50" y="48" font-size="82" font-weight="bold">a</text>
<text x="54" y="327" font-size="78" font-weight="bold">b</text>
<text x="52" y="567" font-size="78" font-weight="bold">c</text>

<!-- titles -->
<text x="229" y="21" font-size="22" textLength="386" lengthAdjust="spacingAndGlyphs">Tumour mutational burden (SNVs)</text>
<text x="227" y="321" font-size="22" textLength="531" lengthAdjust="spacingAndGlyphs">Mutational signatures (single base substitution)</text>
<text x="227" y="561" font-size="22" textLength="415" lengthAdjust="spacingAndGlyphs">Mutational signatures (copy number)</text>

<!-- axis titles -->
<text transform="translate(147,157) rotate(-90)" text-anchor="middle" font-size="23" textLength="64" lengthAdjust="spacingAndGlyphs">Count</text>
<text transform="translate(147,418) rotate(-90)" text-anchor="middle" font-size="23" textLength="122" lengthAdjust="spacingAndGlyphs">Proportion</text>
<text transform="translate(147,662) rotate(-90)" text-anchor="middle" font-size="23" textLength="122" lengthAdjust="spacingAndGlyphs">Proportion</text>

<!-- tick labels a -->
<g font-size="22" text-anchor="end">
<text x="198" y="78" textLength="40" lengthAdjust="spacingAndGlyphs">150</text>
<text x="198" y="139.7" textLength="40" lengthAdjust="spacingAndGlyphs">100</text>
<text x="198" y="202.3" textLength="27" lengthAdjust="spacingAndGlyphs">50</text>
<text x="196" y="264" textLength="13.5" lengthAdjust="spacingAndGlyphs">0</text>
<text x="197" y="340.5" textLength="40" lengthAdjust="spacingAndGlyphs">100</text>
<text x="197" y="384" textLength="27" lengthAdjust="spacingAndGlyphs">75</text>
<text x="197" y="427.6" textLength="27" lengthAdjust="spacingAndGlyphs">50</text>
<text x="197" y="471" textLength="27" lengthAdjust="spacingAndGlyphs">25</text>
<text x="196" y="515" textLength="13.5" lengthAdjust="spacingAndGlyphs">0</text>
<text x="197" y="580.5" textLength="40" lengthAdjust="spacingAndGlyphs">100</text>
<text x="197" y="624.5" textLength="27" lengthAdjust="spacingAndGlyphs">75</text>
<text x="197" y="668.5" textLength="27" lengthAdjust="spacingAndGlyphs">50</text>
<text x="197" y="712.5" textLength="27" lengthAdjust="spacingAndGlyphs">25</text>
<text x="196" y="756.5" textLength="13.5" lengthAdjust="spacingAndGlyphs">0</text>
</g>
<g stroke="#333" stroke-width="1.6">
<line x1="202.5" y1="70" x2="206" y2="70"/><line x1="202.5" y1="131.7" x2="206" y2="131.7"/><line x1="202.5" y1="194.3" x2="206" y2="194.3"/><line x1="202.5" y1="256" x2="206" y2="256"/>
<line x1="202" y1="332.7" x2="206" y2="332.7"/><line x1="202" y1="376.2" x2="206" y2="376.2"/><line x1="202" y1="419.8" x2="206" y2="419.8"/><line x1="202" y1="463.3" x2="206" y2="463.3"/><line x1="202" y1="507" x2="206" y2="507"/>
<line x1="202" y1="573" x2="206" y2="573"/><line x1="202" y1="617" x2="206" y2="617"/><line x1="202" y1="661" x2="206" y2="661"/><line x1="202" y1="705" x2="206" y2="705"/><line x1="202" y1="749" x2="206" y2="749"/>
</g>

<!-- track labels -->
<g font-size="18.5" text-anchor="end">
<text x="199.5" y="823.5" textLength="200" lengthAdjust="spacingAndGlyphs">Mutational classification</text>
<text x="199.5" y="839" textLength="99" lengthAdjust="spacingAndGlyphs">Tumour site</text>
<text x="199.5" y="854.6" textLength="117" lengthAdjust="spacingAndGlyphs">Tumour stage</text>
<text x="198.5" y="870.2" textLength="30" lengthAdjust="spacingAndGlyphs">Sex</text>
<text x="199" y="885.8" textLength="35" lengthAdjust="spacingAndGlyphs">Age</text>
<text x="199" y="901.4" textLength="85" lengthAdjust="spacingAndGlyphs">Ulceration</text>
<text x="199" y="917" textLength="105" lengthAdjust="spacingAndGlyphs">Sample type</text>
</g>

<!-- SBS legend -->
<text x="1388" y="362" font-size="24" font-weight="bold" textLength="117" lengthAdjust="spacingAndGlyphs">Signature</text>
<rect x="1386" y="378.5" width="24.5" height="98.5" fill="#808080"/>
<rect x="1388" y="380.5" width="20.5" height="21.5" fill="#f5bdc0"/>
<rect x="1388" y="404.5" width="20.5" height="22" fill="#c7dbec"/>
<rect x="1388" y="428.5" width="20.5" height="22" fill="#e3f8d1"/>
<rect x="1388" y="452.5" width="20.5" height="22.5" fill="#b2b1b9"/>
<g font-size="19">
<text x="1419" y="398">SBS1</text>
<text x="1419" y="422.5">SBS40a</text>
<text x="1419" y="447">SBS5</text>
<text x="1419" y="471">NA</text>
</g>

<!-- CN legend -->
<text x="1388" y="585" font-size="24" font-weight="bold" textLength="117" lengthAdjust="spacingAndGlyphs">Signature</text>
<rect x="1388.5" y="603" width="24.5" height="135.5" fill="#c5c5c5"/>
<rect x="1390.5" y="605" width="20.5" height="18.3" fill="#bcdde9"/>
<rect x="1390.5" y="627.7" width="20.5" height="19" fill="#3d7fbe"/>
<rect x="1390.5" y="650.7" width="20.5" height="18.3" fill="#d3f28a"/>
<rect x="1390.5" y="673" width="20.5" height="18.7" fill="#46b53a"/>
<rect x="1390.5" y="695.7" width="20.5" height="18.3" fill="#dc3a26"/>
<rect x="1390.5" y="718" width="20.5" height="18.7" fill="#efc47a"/>
<rect x="1512.5" y="603" width="25.5" height="114" fill="#c5c5c5"/>
<rect x="1514.5" y="605" width="21.5" height="18.3" fill="#f1a5ab"/>
<rect x="1514.5" y="627.7" width="21.5" height="19" fill="#f6f6a2"/>
<rect x="1514.5" y="650.7" width="21.5" height="18.3" fill="#dcc1ee"/>
<rect x="1514.5" y="673" width="21.5" height="18.7" fill="#7a2cbf"/>
<rect x="1514.5" y="695.7" width="21.5" height="18.3" fill="#e8822a"/>
<rect x="1512.5" y="718" width="25.5" height="20" fill="#b0aeb6"/>
<g font-size="19">
<text x="1419" y="621">CN1</text>
<text x="1419" y="644">CN10</text>
<text x="1419" y="667">CN13</text>
<text x="1419" y="689.5">CN17</text>
<text x="1419" y="712">CN2</text>
<text x="1419" y="734.5">CN20</text>
<text x="1546" y="621">CN19</text>
<text x="1546" y="644">CN48F</text>
<text x="1546" y="667">CN8</text>
<text x="1546" y="689.5">CN9</text>
<text x="1546" y="712">CN7</text>
<text x="1546" y="734.5">NA</text>
</g>

<!-- bottom legend titles -->
<g font-size="19" font-weight="bold">
<text x="272.5" y="966.5" textLength="158" lengthAdjust="spacingAndGlyphs">Mutational status</text>
<text x="473" y="966.5" textLength="107" lengthAdjust="spacingAndGlyphs">Tumour site</text>
<text x="605" y="966.5" textLength="124.6" lengthAdjust="spacingAndGlyphs">Tumour stage</text>
<text x="773" y="966.5" textLength="33" lengthAdjust="spacingAndGlyphs">Sex</text>
<text x="895.7" y="966.5" textLength="157" lengthAdjust="spacingAndGlyphs">Ulceration status</text>
<text x="1098.6" y="966.5" textLength="113" lengthAdjust="spacingAndGlyphs">Sample type</text>
</g>

<!-- bottom legend swatches -->
<g stroke="#1a1a1a" stroke-width="1.6">
<rect x="272.5" y="975.5" width="14" height="13" fill="#f4a8b8"/>
<rect x="272.5" y="994.5" width="14" height="13" fill="#de9fe0"/>
<rect x="272.5" y="1013.5" width="14" height="13" fill="#f5d75a"/>
<rect x="356.5" y="975.5" width="14" height="13" fill="#cff383"/>
<rect x="356.5" y="994.5" width="14" height="13" fill="#a7e2e2"/>
<rect x="356.5" y="1013.5" width="14" height="13" fill="#dadada"/>
<rect x="473" y="975.5" width="14" height="13" fill="#a8ee7a"/>
<rect x="473" y="994.5" width="14" height="13" fill="#d5bff2"/>
<rect x="473" y="1013.5" width="14" height="13" fill="#f2c08c"/>
<rect x="605" y="975.5" width="14" height="13" fill="#ffffff"/>
<rect x="605" y="994.5" width="14" height="13" fill="#c5daee"/>
<rect x="605" y="1013.5" width="14" height="13" fill="#9d9fe0"/>
<rect x="687" y="975.5" width="14" height="13" fill="#9b45cc"/>
<rect x="687" y="994.5" width="14" height="13" fill="#7b2394"/>
<rect x="773" y="975.5" width="14" height="13" fill="#55b887"/>
<rect x="773" y="994.5" width="14" height="13" fill="#e05f28"/>
<rect x="896" y="975.5" width="14" height="13" fill="#e0321f"/>
<rect x="896" y="994.5" width="14" height="13" fill="#4b88c5"/>
<rect x="896" y="1013.5" width="14" height="13" fill="#bbbbbb"/>
<rect x="1098.6" y="975.5" width="14" height="13" fill="#bddcea"/>
<rect x="1098.6" y="995" width="14" height="13" fill="#3f7fc0"/>
<rect x="1098.6" y="1015" width="14" height="13" fill="#3db333"/>
<rect x="1238" y="975.5" width="14" height="13" fill="#f5a3ae"/>
<rect x="1238" y="996" width="14" height="13" fill="#d8f290"/>
<rect x="1238" y="1016.5" width="14" height="13" fill="#b5b5b5"/>
</g>
<g font-size="16">
<text x="292" y="987.5" font-style="italic">BRAF</text>
<text x="292" y="1006.5" font-style="italic">NRAS</text>
<text x="292" y="1025.5">Multihit</text>
<text x="376" y="987.5" font-style="italic">NF1</text>
<text x="376" y="1006.5" font-style="italic">KIT</text>
<text x="376" y="1025.5">QWT</text>
<text x="492" y="987.5">Feet</text>
<text x="492" y="1006.5">Hands</text>
<text x="492" y="1025.5">Subungual</text>
<text x="624" y="987.5">In situ</text>
<text x="624" y="1006.5">I</text>
<text x="624" y="1025.5">II</text>
<text x="706" y="987.5">III</text>
<text x="706" y="1006.5">IV</text>
<text x="792" y="987.5">Female</text>
<text x="792" y="1006.5">Male</text>
<text x="914" y="987.5">Ulcerated</text>
<text x="914" y="1006.5">Non-ulcerated</text>
<text x="914" y="1025.5">Unknown</text>
<text x="1118" y="987.5">Primary</text>
<text x="1118" y="1007">LN Metastasis</text>
<text x="1118" y="1027">Recurrence</text>
<text x="1257.5" y="987.5">Lesion in transit</text>
<text x="1257.5" y="1008">Metastasis</text>
<text x="1257.5" y="1028.5">NA</text>
</g>

<!-- age colourbar -->
<text x="572" y="1061" font-size="17" font-weight="bold" textLength="145" lengthAdjust="spacingAndGlyphs">Age at diagnosis</text>
<text x="726" y="1061" font-size="15">30</text>
<rect x="755" y="1049" width="379" height="16.5" fill="url(#ylorbr)" stroke="#111" stroke-width="2"/>
<text x="1143" y="1061" font-size="15">95</text>
</svg>
</body></html>
